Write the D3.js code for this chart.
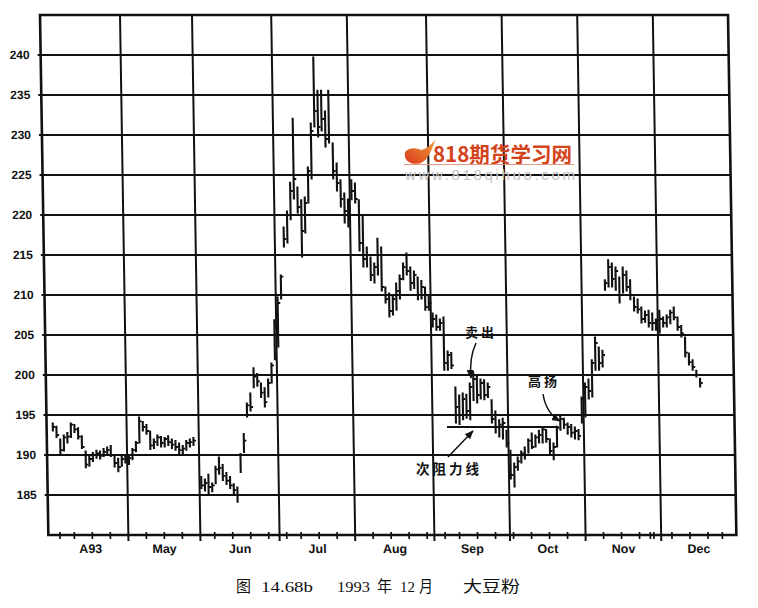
<!DOCTYPE html>
<html><head><meta charset="utf-8">
<script src="https://cdn.jsdelivr.net/npm/d3@7"></script>
<style>body{margin:0;background:#fff}svg{display:block}</style>
</head><body>
<svg id="c" width="758" height="608"></svg>
<script>
// ---- data ----
const tradingDays = [
"4/1","4/2","4/5","4/6","4/7","4/8","4/12","4/13","4/14","4/15","4/16","4/19","4/20","4/21","4/22","4/23","4/26","4/27","4/28","4/29","4/30",
"5/3","5/4","5/5","5/6","5/7","5/10","5/11","5/12","5/13","5/14","5/17","5/18","5/19","5/20","5/21","5/24","5/25","5/26","5/27","5/28",
"6/1","6/2","6/3","6/4","6/7","6/8","6/9","6/10","6/11","6/14","6/15","6/16","6/17","6/18","6/21","6/22","6/23","6/24","6/25","6/28","6/29","6/30",
"7/1","7/2","7/6","7/7","7/8","7/9","7/12","7/13","7/14","7/15","7/16","7/19","7/20","7/21","7/22","7/23","7/26","7/27","7/28","7/29","7/30",
"8/2","8/3","8/4","8/5","8/6","8/9","8/10","8/11","8/12","8/13","8/16","8/17","8/18","8/19","8/20","8/23","8/24","8/25","8/26","8/27","8/30","8/31",
"9/1","9/2","9/3","9/7","9/8","9/9","9/10","9/13","9/14","9/15","9/16","9/17","9/20","9/21","9/22","9/23","9/24","9/27","9/28","9/29","9/30",
"10/1","10/4","10/5","10/6","10/7","10/8","10/11","10/12","10/13","10/14","10/15","10/18","10/19","10/20","10/21","10/22","10/25","10/26","10/27","10/28","10/29",
"11/1","11/2","11/3","11/4","11/5","11/8","11/9","11/10","11/11","11/12","11/15","11/16","11/17","11/18","11/19","11/22","11/23","11/24","11/26","11/29","11/30",
"12/1","12/2","12/3","12/6","12/7","12/8","12/9","12/10","12/13","12/14","12/15","12/16","12/17","12/20","12/21","12/22","12/23","12/27","12/28","12/29","12/30","12/31"];

const high = [
194.0,193.6,192.0,192.5,192.8,194.0,193.8,193.4,192.4,190.5,189.8,190.3,190.6,190.5,190.8,191.0,191.2,190.0,189.6,189.8,190.0,
189.8,190.8,191.7,194.75,194.2,193.8,193.0,192.0,192.5,192.3,192.2,192.4,192.0,191.8,191.5,191.2,191.8,192.0,192.2,null,
187.3,187.0,187.6,186.5,188.6,189.75,188.8,187.8,187.3,186.4,186.0,190.2,192.7,196.5,197.75,200.9,200.2,199.0,198.4,199.5,201.5,206.9,
209.75,212.5,218.5,220.5,224.1,232.1,223.5,221.9,222.25,226.0,231.5,239.75,235.6,235.6,233.0,235.6,229.0,226.5,224.4,222.75,222.0,
224.4,224.0,221.9,220.0,216.0,214.75,214.0,217.1,216.0,211.0,210.25,210.0,211.5,212.5,214.0,215.25,213.5,213.0,212.25,211.8,211.0,210.0,
207.75,207.5,207.0,207.25,203.0,202.8,198.5,197.5,197.75,197.6,199.0,200.4,200.0,199.5,199.4,199.0,196.9,195.5,194.4,194.6,193.1,
190.6,189.0,189.75,190.5,191.0,192.0,192.75,192.5,193.1,193.5,193.2,192.0,191.5,193.6,195.0,194.6,194.0,193.8,193.5,193.2,197.25,
199.0,199.5,201.9,204.75,203.5,203.1,211.9,214.4,214.0,213.5,212.25,213.5,213.0,211.9,209.75,209.5,208.5,208.0,208.1,207.75,207.0,
208.1,207.25,207.5,208.1,208.5,207.25,206.2,204.75,202.75,201.9,200.6,199.6];

const low = [
193.0,192.2,190.2,190.5,191.5,192.2,192.8,192.0,190.8,188.4,188.6,189.2,189.6,189.5,189.8,190.0,189.8,188.5,187.9,188.6,189.0,
188.8,189.4,190.4,191.5,193.0,192.6,190.7,190.8,191.2,191.0,191.0,191.2,190.8,190.6,190.2,190.0,190.6,191.0,191.2,null,
185.8,185.5,185.0,185.4,186.4,187.6,186.8,186.3,185.8,185.0,184.1,187.8,190.3,194.75,195.5,198.4,198.6,197.2,196.0,197.25,199.0,201.9,
203.5,209.5,216.0,216.5,219.4,222.0,220.25,214.75,217.75,221.5,224.5,231.0,229.75,230.5,228.5,229.0,224.5,223.0,221.0,219.0,218.5,
221.9,221.5,215.5,213.5,213.5,211.8,211.5,212.5,210.5,209.0,207.25,207.5,208.1,209.5,211.9,212.5,210.6,210.8,209.4,209.5,208.1,208.1,
206.0,205.6,205.6,200.6,200.6,200.8,194.0,193.8,194.4,194.6,194.4,196.8,196.5,197.0,196.9,197.2,194.0,192.75,192.25,192.0,191.0,
187.0,186.0,188.1,189.0,189.5,190.25,190.8,191.0,191.5,191.5,191.6,190.0,189.4,191.0,193.1,193.3,192.6,192.25,192.0,191.9,194.0,
194.75,197.0,197.25,200.6,200.6,201.0,210.6,211.0,211.0,210.6,209.0,210.25,210.5,209.4,208.0,207.75,206.5,206.6,206.0,205.6,205.6,
205.25,206.0,206.0,206.4,206.9,205.6,204.75,202.25,201.25,200.6,199.75,198.5];

const close = [
193.5,192.5,190.6,192.2,192.3,193.8,193.2,192.3,191.0,188.8,189.5,190.0,190.2,189.9,190.4,190.6,190.0,189.0,188.5,189.5,189.4,
189.6,190.6,191.5,194.2,193.5,193.0,191.2,191.6,192.2,191.5,192.0,191.6,191.3,191.0,190.6,190.8,191.5,191.6,191.8,null,
186.2,186.5,186.0,186.2,188.2,188.4,187.4,186.8,186.2,185.6,185.0,190.0,191.8,196.2,196.0,199.8,199.2,197.8,196.6,199.0,201.2,206.0,
209.0,212.3,217.0,220.0,223.0,224.5,221.0,218.0,221.5,225.5,230.5,233.0,231.0,232.0,229.5,230.0,225.5,224.0,222.0,220.5,219.5,
223.0,222.0,216.5,214.5,215.0,212.5,213.5,215.0,211.0,209.5,208.0,209.5,210.5,212.0,213.5,213.0,211.5,212.5,210.0,211.0,208.5,209.0,
207.0,206.0,206.5,201.5,202.5,201.2,196.0,195.0,197.0,195.5,198.5,199.5,197.5,199.0,197.5,198.5,194.5,193.5,193.8,194.0,191.5,
187.5,188.5,189.2,190.2,190.0,191.8,191.0,192.2,192.5,193.2,192.0,190.5,191.0,193.4,194.5,193.8,193.5,192.8,193.0,192.4,197.0,
198.5,198.0,201.5,204.0,201.5,202.5,211.5,213.5,212.0,213.0,210.0,212.5,211.0,210.0,208.5,208.2,207.0,207.5,206.5,206.5,206.8,
207.0,206.5,207.2,207.8,207.2,206.0,205.2,202.8,201.6,201.0,200.0,199.0];

const yTicks = [185,190,195,200,205,210,215,220,225,230,235,240];
const monthNums = ["4","5","6","7","8","9","10","11","12"];
const monthLabels = ["A93","May","Jun","Jul","Aug","Sep","Oct","Nov","Dec"];
const resistance = {from:"9/8", to:"10/20", value:193.5};

// ---- layout ----
const svg = d3.select("#c");
const L=40, R=728, T=15, B=535;
const x = d3.scaleBand().domain(tradingDays).range([44.4, 732]).padding(0);
const y = d3.scaleLinear().domain([180,245]).range([B,T]);
const bw = x.bandwidth();
const ink = "#111";

const g = svg.append("g").attr("transform",`translate(0,${T}) skewX(0.92) translate(0,${-T})`);

// horizontal grid
g.selectAll("line.h").data(yTicks).join("line")
 .attr("x1",L-3).attr("x2",R).attr("y1",d=>y(d)).attr("y2",d=>y(d))
 .attr("stroke",ink).attr("stroke-width",2);

// month boundaries
const monthStarts = monthNums.slice(1).map(m=>tradingDays.find(d=>d.split("/")[0]===m));
g.selectAll("line.v").data(monthStarts).join("line")
 .attr("x1",d=>x(d)).attr("x2",d=>x(d)).attr("y1",T).attr("y2",B+6)
 .attr("stroke",ink).attr("stroke-width",2);

// weekly ticks
const parse = d3.timeParse("%Y-%m-%d");
const dt = tradingDays.map(s=>{const [m,d]=s.split("/");return parse(`1993-${m.padStart(2,"0")}-${d.padStart(2,"0")}`);});
const weekStarts = tradingDays.filter((d,i)=>i>0 && (dt[i]-dt[i-1])>86400000*1.5 && !monthStarts.includes(d));
g.selectAll("line.w").data(weekStarts).join("line")
 .attr("x1",d=>x(d)).attr("x2",d=>x(d)).attr("y1",B-3).attr("y2",B+4)
 .attr("stroke",ink).attr("stroke-width",1.7);

// frame
g.append("rect").attr("x",L).attr("y",T).attr("width",R-L).attr("height",B-T)
 .attr("fill","none").attr("stroke",ink).attr("stroke-width",2.6);

// y labels
g.selectAll("text.y").data(yTicks).join("text")
 .attr("x",29).attr("y",d=>y(d)+4).attr("text-anchor","end")
 .attr("font-family","Liberation Sans, Arial, sans-serif").attr("font-weight","bold")
 .attr("font-size",12).attr("fill",ink).text(d=>d);

// month labels
monthNums.forEach((m,k)=>{
  const days = tradingDays.filter(d=>d.split("/")[0]===m);
  const a = Math.max(L, x(days[0])), b = Math.min(R, x(days[days.length-1])+bw);
  g.append("text").attr("x",(a+b)/2).attr("y",553).attr("text-anchor","middle")
   .attr("font-family","Liberation Sans, Arial, sans-serif").attr("font-weight","bold")
   .attr("font-size",12.5).attr("fill",ink).text(monthLabels[k]);
});

// bars (HLC)
const bars = high.map((h,i)=>({d:tradingDays[i],h,l:low[i],c:close[i]})).filter(b=>b.h!=null);
g.selectAll("line.bar").data(bars).join("line")
 .attr("x1",b=>x(b.d)+bw/2).attr("x2",b=>x(b.d)+bw/2)
 .attr("y1",b=>y(b.h)-0.5).attr("y2",b=>y(b.l)+0.5)
 .attr("stroke",ink).attr("stroke-width",2.1);
g.selectAll("line.cl").data(bars).join("line")
 .attr("x1",b=>x(b.d)+bw/2).attr("x2",b=>x(b.d)+bw/2+2.6)
 .attr("y1",b=>y(b.c)).attr("y2",b=>y(b.c))
 .attr("stroke",ink).attr("stroke-width",1.8);

// resistance line
g.append("line").attr("x1",x(resistance.from)).attr("x2",x(resistance.to)+bw)
 .attr("y1",y(resistance.value)).attr("y2",y(resistance.value))
 .attr("stroke",ink).attr("stroke-width",1.8);

// ---- annotations ----
const defs = svg.append("defs");
defs.append("marker").attr("id","ah").attr("viewBox","0 0 10 10").attr("refX",9).attr("refY",5)
 .attr("markerWidth",6).attr("markerHeight",6).attr("orient","auto")
 .append("path").attr("d","M0,1 L10,5 L0,9 Z").attr("fill",ink);
const cjk = "Noto Sans CJK SC, sans-serif";
function note(t,cx,by,fs,ls){svg.append("text").attr("x",cx).attr("y",by).attr("text-anchor","middle")
 .attr("font-family",cjk).attr("font-weight","bold").attr("font-size",fs).attr("letter-spacing",ls)
 .attr("fill",ink).text(t);}
note("卖出",481,337,13,3);
note("高扬",544,386,13,3);
note("次阻力线",449,474,13.5,3);
svg.append("path").attr("d","M476,343 Q469,358 471,378").attr("fill","none").attr("stroke",ink).attr("stroke-width",1.5).attr("marker-end","url(#ah)");
svg.append("path").attr("d","M543,394 Q546,413 560,421").attr("fill","none").attr("stroke",ink).attr("stroke-width",1.5).attr("marker-end","url(#ah)");
svg.append("path").attr("d","M448,457 L473,431").attr("fill","none").attr("stroke",ink).attr("stroke-width",1.5).attr("marker-end","url(#ah)");

// ---- watermark ----
const grad = defs.append("linearGradient").attr("id","wg").attr("x1","0").attr("y1","1").attr("x2","1").attr("y2","0");
grad.append("stop").attr("offset","0").attr("stop-color","#d8381a");
grad.append("stop").attr("offset","1").attr("stop-color","#f2a23a");
svg.append("path").attr("d","M405,152 C403,161 412,166 421,163 C428,160 431,151 436,139 C431,145 426,149 421,150 C416,148 410,147 405,152 Z").attr("fill","url(#wg)");
svg.append("text").attr("x",433).attr("y",162).attr("font-family",cjk).attr("font-weight","bold")
 .attr("font-size",21).attr("fill","#d4441c").attr("textLength",139).attr("lengthAdjust","spacingAndGlyphs").text("818期货学习网");
svg.append("line").attr("x1",404).attr("x2",574).attr("y1",164.5).attr("y2",164.5).attr("stroke","#e39a80").attr("stroke-width",1);
svg.append("text").attr("x",405).attr("y",180).attr("font-family","Liberation Sans, Arial, sans-serif")
 .attr("font-size",15).attr("fill","#c4c4c4").attr("textLength",170).attr("lengthAdjust","spacing").text("www.818qihuo.com");

// ---- caption ----
const serif = "Liberation Serif, Noto Sans CJK SC, serif";
function cap(t,x0,w){const s=svg.append("text").attr("x",x0).attr("y",592).attr("font-family",serif)
 .attr("font-size",15.5).attr("fill",ink).text(t);
 if(w) s.attr("textLength",w).attr("lengthAdjust","spacingAndGlyphs");}
cap("图",236,15); cap("14.68b",261,52); cap("1993",337,33); cap("年",377,15);
cap("12",400,15); cap("月",419,14); cap("大豆粉",463,57);
</script>
</body></html>
